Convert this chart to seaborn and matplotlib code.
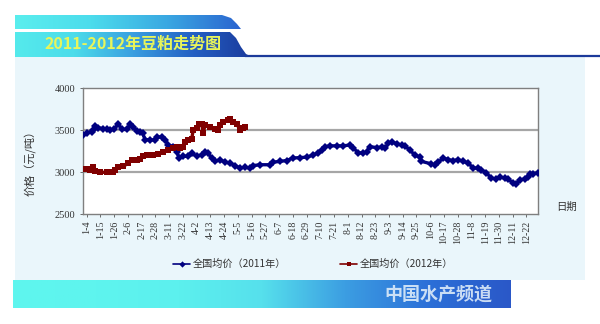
import numpy as np
import pandas as pd
import matplotlib
matplotlib.use("Agg")
import matplotlib.pyplot as plt
import seaborn as sns
from matplotlib.patches import Polygon, Rectangle

# ---------------- data ----------------
days_2011 = [1, 4, 8, 9.3, 10.7, 13.3, 17.3, 20, 22.7, 25.9, 29.3, 32, 36, 38.7, 41.3, 44,
             46.7, 48.8, 50.7, 54.7, 58.7, 60, 64, 66.7, 69.3, 73.3, 76, 78.1, 81.3, 85.3,
             88, 92, 96, 98.7, 101.3, 104, 106.7, 110.7, 114.7, 118.7, 122.7, 126.7, 130.7,
             134.7, 137.3, 142.7, 150.7, 153.3, 158.7, 164, 169.3, 174.7, 180, 185.4, 189.4,
             192, 194.7, 198.7, 204, 209.4, 214.7, 217.4, 221.4, 225.4, 228, 230.7, 236, 240,
             242.7, 245.4, 248, 252, 256, 258.7, 262.7, 266.7, 270.7, 272, 280, 282.7, 285.4,
             289.4, 293.4, 297.4, 301.4, 305.4, 309.4, 313.4, 317.4, 320, 324, 328, 332,
             334.7, 338.7, 341.4, 345.4, 348, 350.7, 354.7, 357.4, 358.7, 361.4, 365.4]
price_2011 = [3450, 3470, 3485, 3500, 3550, 3530, 3520, 3520, 3505, 3510, 3580, 3510, 3510,
              3570, 3545, 3490, 3480, 3465, 3390, 3385, 3385, 3425, 3415, 3385, 3325, 3305,
              3245, 3170, 3190, 3190, 3225, 3195, 3205, 3245, 3225, 3170, 3130, 3150, 3120,
              3110, 3080, 3050, 3060, 3050, 3080, 3090, 3090, 3120, 3130, 3140, 3170, 3175,
              3180, 3205, 3235, 3260, 3305, 3315, 3315, 3315, 3325, 3285, 3235, 3225, 3245,
              3305, 3295, 3300, 3285, 3345, 3365, 3340, 3325, 3315, 3265, 3205, 3180, 3130,
              3100, 3090, 3120, 3170, 3150, 3140, 3150, 3130, 3110, 3050, 3050, 3030, 2990,
              2930, 2920, 2945, 2930, 2920, 2870, 2860, 2910, 2920, 2950, 2985, 2985, 2990]

days_2012 = [1, 4, 6.7, 9.3, 10.7, 14.7, 20, 25.3, 26.7, 29.3, 33.3, 37.3, 40, 44, 46.7,
             49.3, 52, 57.3, 61.3, 65.3, 69.3, 73.3, 76, 78.7, 81.3, 82.7, 85.3, 88, 89.3,
             92, 94.1, 96, 97.3, 98.7, 102.7, 106.7, 109.3, 110.7, 113.3, 117.3, 118.7,
             121.3, 124, 126.7, 129.3, 130.7]
price_2012 = [3040, 3040, 3025, 3065, 3010, 3000, 3000, 3000, 3025, 3065, 3070, 3110, 3150,
              3150, 3155, 3190, 3205, 3205, 3220, 3245, 3265, 3285, 3305, 3285, 3305, 3365,
              3385, 3395, 3505, 3525, 3580, 3580, 3465, 3565, 3545, 3510, 3505, 3565, 3600,
              3620, 3640, 3600, 3580, 3505, 3525, 3545]

tick_days = [4, 15, 26, 37, 48, 59, 70, 81, 92, 103, 114, 125, 136, 147, 158, 169, 180,
             191, 202, 213, 224, 235, 246, 257, 268, 279, 290, 301, 312, 323, 334, 345, 356]
tick_labels = ["1-4", "1-15", "1-26", "2-6", "2-17", "2-28", "3-11", "3-22", "4-2", "4-13",
               "4-24", "5-5", "5-16", "5-27", "6-7", "6-18", "6-29", "7-10", "7-21", "8-1",
               "8-12", "8-23", "9-3", "9-14", "9-25", "10-6", "10-17", "10-28", "11-8",
               "11-19", "11-30", "12-11", "12-22"]
y_ticks = [2500, 3000, 3500, 4000]

title = "2011-2012年豆粕走势图"
ylabel = "价格（元/吨）"
xlabel = "日期"
name_2011 = "全国均价（2011年）"
name_2012 = "全国均价（2012年）"
brand = "中国水产频道"

# ---------------- style ----------------
sns.set_theme(style="white")
plt.rcParams["font.family"] = ["Noto Sans CJK SC", "DejaVu Sans"]

W, H = 600, 324
fig = plt.figure(figsize=(W / 100, H / 100), dpi=100, facecolor="white")


def fx(x):
    return x / W


def fy(y):
    return 1 - y / H


def gradient_box(x0, y0, x1, y1, colors, poly=None):
    ax_g = fig.add_axes([fx(x0), fy(y1), fx(x1 - x0), (y1 - y0) / H])
    ax_g.set_xlim(x0, x1)
    ax_g.set_ylim(y1, y0)
    ax_g.axis("off")
    cmap = matplotlib.colors.LinearSegmentedColormap.from_list("g", colors)
    grad = np.linspace(0, 1, 256).reshape(1, -1)
    im = ax_g.imshow(grad, aspect="auto", cmap=cmap, extent=[x0, x1, y1, y0])
    if poly is not None:
        p = Polygon(poly, closed=True, transform=ax_g.transData, facecolor="none", edgecolor="none")
        ax_g.add_patch(p)
        im.set_clip_path(p)
    return ax_g

# light panel background
bg = fig.add_axes([0, 0, 1, 1], zorder=-10)
bg.set_xlim(0, W)
bg.set_ylim(H, 0)
bg.axis("off")
bg.add_patch(Rectangle((15, 57), 570, 223, facecolor="#eaf6fb", edgecolor="none"))
bg.plot([245, 600], [55.5, 55.5], color="#1c3a9a", lw=1.6)

# header bands
gradient_box(15, 15, 242, 29, ["#5aeeee", "#4cdcec", "#3aa8e2", "#2a62cf"],
             poly=[(15, 15), (222, 15), (231, 18), (237, 24), (241, 29), (15, 29)])
gradient_box(15, 32, 252, 57, ["#55eaec", "#4cdcea", "#3a9ee0", "#2460c4", "#1a3a9c"],
             poly=[(15, 32), (230, 32), (236, 38), (241, 47), (246, 54), (252, 57), (15, 57)])
fig.text(fx(133), fy(44), title, color="#e8f55a", fontsize=11.5, fontweight="bold",
         ha="center", va="center", family=["Noto Sans CJK SC", "DejaVu Sans"])

# footer band
gradient_box(13, 280, 510, 308, ["#5ef6ee", "#5ef4ee", "#5cf0ee", "#56e0ec", "#3c9ee2",
                                  "#2c70d8", "#2a58c8"])
fig.text(fx(438), fy(294), brand, color="#e6f2fb", fontsize=13, fontweight="bold",
         ha="center", va="center", alpha=0.85)

# ---------------- main chart ----------------
ax = fig.add_axes([fx(82.7), fy(214.3), fx(538.3 - 82.7), (214.3 - 88.3) / H])
ax.set_facecolor("white")

df11 = pd.DataFrame({"day": days_2011, "price": price_2011})
df12 = pd.DataFrame({"day": days_2012, "price": price_2012})

ax.axhline(3000, color="#a6a6a6", lw=1.6, zorder=1)
ax.axhline(3500, color="#a6a6a6", lw=1.6, zorder=1)

sns.lineplot(data=df11, x="day", y="price", ax=ax, color="#000080", lw=2.4,
             marker="D", markersize=4, markeredgewidth=0, estimator=None, sort=False,
             label=name_2011, legend=False, zorder=3)
sns.lineplot(data=df12, x="day", y="price", ax=ax, color="#800000", lw=2.4,
             marker="s", markersize=4, markeredgewidth=0, estimator=None, sort=False,
             label=name_2012, legend=False, zorder=3)

ax.set_xlim(0.8, 365.5)
ax.set_ylim(2500, 4000)
ax.set_yticks(y_ticks)
ax.set_yticklabels([str(v) for v in y_ticks], fontsize=7.5, family="Liberation Serif", color="#333333")
ax.set_xticks(tick_days)
ax.set_xticklabels(tick_labels, rotation=90, fontsize=7.2, family="Liberation Serif", color="#333333")
ax.tick_params(axis="x", length=2.5, width=0.6, color="#555555", pad=2, bottom=True)
ax.tick_params(axis="y", length=2.5, width=0.6, color="#555555", pad=3, left=True)
for s in ax.spines.values():
    s.set_color("#7f7f7f")
    s.set_linewidth(1.0)
ax.set_xlabel("")
ax.set_ylabel("")

fig.text(fx(31), fy(160), ylabel, rotation=90, fontsize=8, ha="center", va="center",
         color="#333333")
fig.text(fx(567), fy(207), xlabel, fontsize=7.5, ha="center", va="center", color="#333333")

# legend
lg = fig.add_axes([0, 0, 1, 1], zorder=5)
lg.set_xlim(0, W)
lg.set_ylim(H, 0)
lg.axis("off")
lg.plot([173, 190], [264, 264], color="#000080", lw=1.2)
lg.plot([181.5], [264], marker="D", color="#000080", markersize=3.2, markeredgewidth=0)
lg.text(193, 264, name_2011, fontsize=7.3, va="center", ha="left", color="#333333")
lg.plot([340, 357], [264, 264], color="#800000", lw=1.2)
lg.plot([348.5], [264], marker="s", color="#800000", markersize=3.2, markeredgewidth=0)
lg.text(360, 264, name_2012, fontsize=7.3, va="center", ha="left", color="#333333")

fig.savefig("out.png", dpi=100, facecolor="white")
